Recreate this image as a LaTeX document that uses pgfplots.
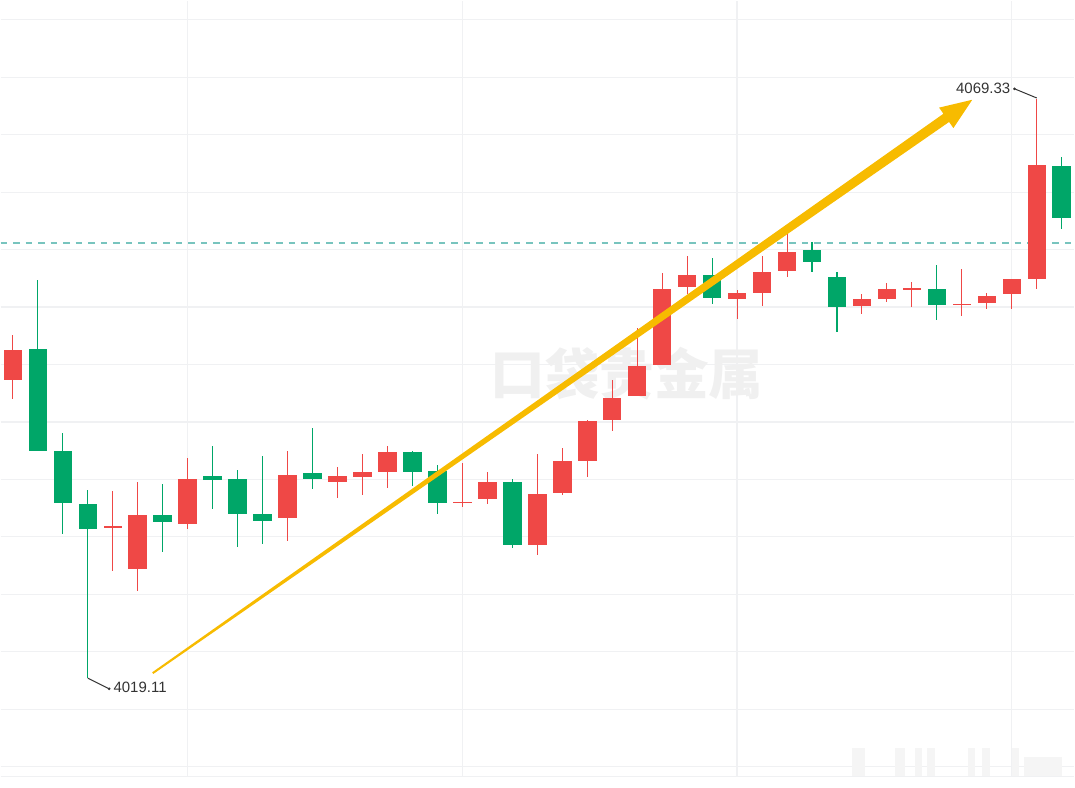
\documentclass[border=0pt]{standalone}
\usepackage{pgfplots}
\pgfplotsset{compat=1.18}
\usepackage{pgfplotstable}
\usepackage{fontspec}
\setmainfont{Liberation Sans}
\newfontfamily\cjk{Noto Sans CJK SC}
\definecolor{upred}{RGB}{239,72,70}
\definecolor{dngreen}{RGB}{0,166,104}
\definecolor{arrowy}{RGB}{247,187,0}
\definecolor{gridc}{RGB}{240,241,243}
\definecolor{dashc}{RGB}{120,196,190}
\definecolor{txt}{RGB}{51,51,51}
\definecolor{wm}{RGB}{240,240,240}

\pgfplotstableread{
x o h l c
1 4044.94 4048.84 4043.27 4047.60
5 4032.20 4035.33 4028.43 4032.26
6 4028.60 4036.08 4026.70 4033.25
8 4032.50 4038.16 4032.01 4036.43
12 4032.99 4038.79 4031.03 4036.77
14 4036.11 4037.47 4034.70 4036.60
15 4036.57 4038.59 4035.01 4037.03
16 4036.95 4039.22 4035.59 4038.71
19 4034.32 4037.73 4033.97 4034.38
20 4034.64 4036.97 4034.18 4036.08
22 4030.65 4038.51 4029.76 4035.04
23 4035.13 4039.03 4035.01 4037.93
24 4037.95 4041.45 4036.54 4041.45
25 4041.48 4044.94 4040.55 4043.41
26 4043.58 4049.42 4043.58 4046.18
27 4046.24 4054.27 4046.24 4052.88
28 4053.05 4055.68 4052.45 4054.03
30 4052.01 4052.73 4050.28 4052.47
31 4052.50 4055.76 4051.35 4054.29
32 4054.38 4057.73 4053.86 4056.05
35 4051.35 4052.45 4050.72 4052.01
36 4051.98 4053.40 4051.72 4052.82
37 4052.82 4053.49 4051.29 4052.88
39 4051.43 4054.61 4050.54 4051.58
40 4051.67 4052.53 4051.09 4052.21
41 4052.41 4053.71 4051.15 4053.71
42 4053.71 4069.33 4052.88 4063.58
}\uptab

\pgfplotstableread{
x o h l c
2 4047.68 4053.60 4038.82 4038.82
3 4038.79 4040.41 4031.58 4034.32
4 4034.23 4035.41 4019.11 4032.06
7 4033.25 4035.96 4030.05 4032.64
9 4036.63 4039.22 4033.83 4036.31
10 4036.34 4037.15 4030.48 4033.36
11 4033.31 4038.36 4030.77 4032.76
13 4036.91 4040.84 4035.48 4036.34
17 4038.71 4038.79 4035.76 4037.00
18 4037.09 4037.61 4033.31 4034.35
21 4036.11 4036.39 4030.42 4030.63
29 4054.03 4055.56 4051.58 4052.07
33 4056.26 4056.93 4054.32 4055.22
34 4053.88 4054.36 4049.11 4051.29
38 4052.82 4054.90 4050.20 4051.46
43 4063.50 4064.31 4058.08 4059.03
}\dntab

\begin{document}
\begin{tikzpicture}
\begin{axis}[
  scale only axis, width=806.25pt, height=582.75pt,
  xmin=0.508, xmax=43.508, ymin=4010.564, ymax=4077.842,
  hide axis, xtick=\empty, ytick=\empty, clip=false,
  candle/.style={draw=none, fill=none, mark=none, forget plot,
    error bars/y dir=both, error bars/y explicit, error bars/error mark=none},
]
% grid
\pgfplotsinvokeforeach{4076.17,4071.19,4066.21,4061.23,4056.26,4051.28,4046.30,4041.32,4036.34,4031.36,4026.38,4021.40,4016.42,4011.44,4010.60}{
  \draw[gridc, line width=0.9pt] (axis cs:0.508,#1) -- (axis cs:43.508,#1);
}
\pgfplotsinvokeforeach{8,19,30,41}{
  \draw[gridc, line width=0.9pt] (axis cs:#1,4010.564) -- (axis cs:#1,4077.842);
}
% watermark
\node[text=wm, font=\cjk\bfseries\fontsize{41}{41}\selectfont, inner sep=0] at (axis cs:25.588,4045.50) {口袋贵金属};
% blurred mark bottom right
\begin{scope}[fill=black!4]
\fill (axis cs:34.588,4010.651) rectangle (axis cs:35.108,4013.075);
\fill (axis cs:36.308,4010.651) rectangle (axis cs:36.708,4013.075);
\fill (axis cs:37.108,4010.651) rectangle (axis cs:37.388,4013.075);
\fill (axis cs:37.588,4010.651) rectangle (axis cs:37.908,4013.075);
\fill (axis cs:39.228,4010.651) rectangle (axis cs:39.508,4013.075);
\fill (axis cs:39.788,4010.651) rectangle (axis cs:40.108,4013.075);
\fill (axis cs:41.028,4010.651) rectangle (axis cs:41.308,4013.075);
\fill (axis cs:41.508,4010.651) rectangle (axis cs:43.028,4012.300);
\end{scope}
% dashed line
\draw[dashc, line width=0.8pt, dash pattern=on 4.9pt off 4.5pt] (axis cs:0.508,4056.83) -- (axis cs:43.508,4056.83);

% wicks
\addplot[candle, error bars/error bar style={draw=upred, line width=0.8pt}]
  table[x=x, y expr={(\thisrow{h}+\thisrow{l})/2}, y error expr={(\thisrow{h}-\thisrow{l})/2}] {\uptab};
\addplot[candle, error bars/error bar style={draw=dngreen, line width=0.8pt}]
  table[x=x, y expr={(\thisrow{h}+\thisrow{l})/2}, y error expr={(\thisrow{h}-\thisrow{l})/2}] {\dntab};
% bodies
\addplot[candle, error bars/error bar style={draw=upred, line width=13.9pt}]
  table[x=x, y expr={(\thisrow{o}+\thisrow{c})/2}, y error expr={max(abs(\thisrow{c}-\thisrow{o})/2,0.05)}] {\uptab};
\addplot[candle, error bars/error bar style={draw=dngreen, line width=13.9pt}]
  table[x=x, y expr={(\thisrow{o}+\thisrow{c})/2}, y error expr={max(abs(\thisrow{c}-\thisrow{o})/2,0.05)}] {\dntab};

% arrow
\fill[arrowy] (axis cs:6.623,4019.472) -- (axis cs:38.490,4067.322) -- (axis cs:38.662,4066.790)
  -- (axis cs:39.416,4069.244) -- (axis cs:38.090,4068.565) -- (axis cs:38.262,4068.032)
  -- (axis cs:6.577,4019.614) -- cycle;

% labels
\draw[txt, line width=0.75pt] (axis cs:4,4019.11) -- (axis cs:4.856,4018.183);
\fill[txt] (axis cs:4.856,4018.183) circle (1.1pt);
\node[anchor=west, inner sep=0, text=txt, font=\fontsize{11.25}{13}\selectfont] at (axis cs:5.02,4018.27) {4019.11};
\draw[txt, line width=0.75pt] (axis cs:42,4069.40) -- (axis cs:41.108,4070.197);
\fill[txt] (axis cs:41.108,4070.197) circle (1.1pt);
\node[anchor=east, inner sep=0, text=txt, font=\fontsize{11.25}{13}\selectfont] at (axis cs:40.95,4070.22) {4069.33};
\end{axis}
\path (0,-8.25pt) (806.25pt,582.75pt);
\end{tikzpicture}
\end{document}
